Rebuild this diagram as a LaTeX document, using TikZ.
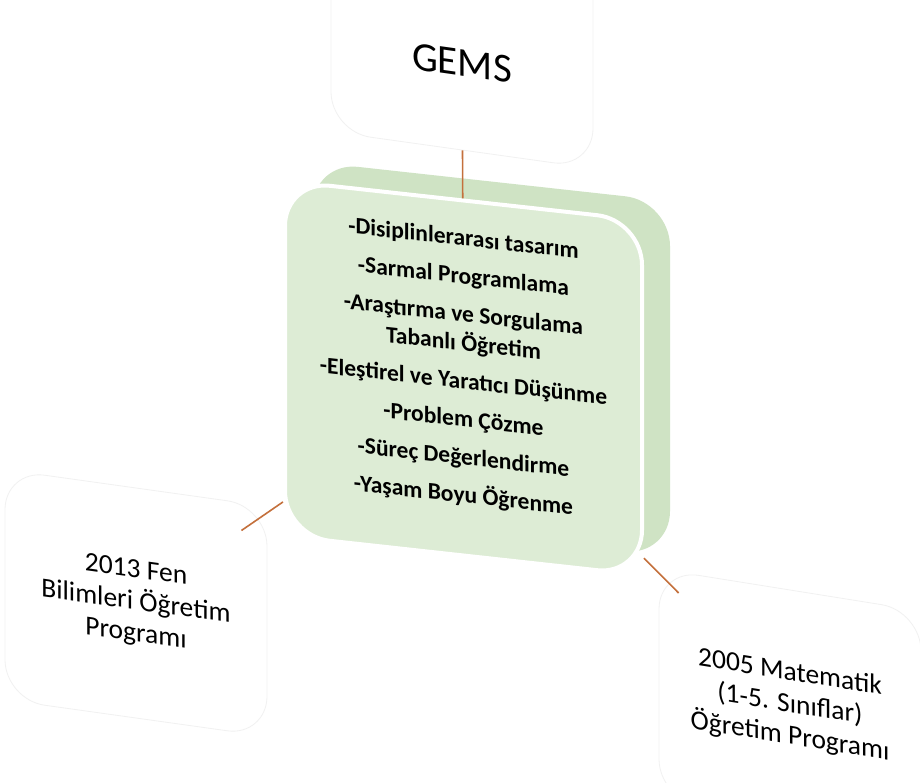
\documentclass[tikz,border=0pt]{standalone}
\usepackage{fontspec}
\setmainfont{Carlito}
\usepackage{tikz}
\usepackage{xcolor}

\definecolor{leafgreen}{RGB}{221,236,213}
\definecolor{leafshade}{RGB}{207,227,196}
\definecolor{linkbrown}{RGB}{196,112,60}
\definecolor{edgegray}{RGB}{241,241,241}

\tikzset{
  paperbox/.style={fill=white, draw=edgegray, line width=0.8pt, rounded corners=40pt,
    minimum width=262pt, minimum height=230pt, align=center,
    font=\fontsize{27.5}{32}\selectfont},
  link/.style={draw=linkbrown, line width=1.6pt},
}

\begin{document}
\begin{tikzpicture}[x=1pt, y=-1pt]
    \useasboundingbox (0,0) rectangle (920,783);
    \fill[white] (0,0) rectangle (920,783);
    \begin{scope}[shift={(462,35)}, yslant=-0.14, transform shape]
        \node[paperbox, minimum width=262pt, minimum height=230pt, text height=82pt, text depth=0pt,
            font=\fontsize{41}{45}\selectfont] (gems) at (0,0) {GEMS};
    \end{scope}
    \begin{scope}[shift={(463.5,378)}, yslant=-0.11, transform shape]
        \fill[leafshade, rounded corners=45pt] (-150.5,-199.5) rectangle ++(357,355);
        \node[fill=leafgreen, draw=white, line width=4pt, rounded corners=45pt,
            minimum width=357pt, minimum height=355pt, align=center,
            font=\bfseries\fontsize{23.5}{29}\selectfont] (mid) at (0,0)
            {-Disiplinlerarası tasarım\\[9pt]
             -Sarmal Programlama\\[9pt]
             -Araştırma ve Sorgulama\\
             Tabanlı Öğretim\\[9pt]
             -Eleştirel ve Yaratıcı Düşünme\\[9pt]
             -Problem Çözme\\[9pt]
             -Süreç Değerlendirme\\[9pt]
             -Yaşam Boyu Öğrenme\\[-5pt]\mbox{}};
    \end{scope}
    \begin{scope}[shift={(136,603)}, yslant=-0.14, transform shape]
        \node[paperbox] (fen) at (0,0) {2013 Fen\\Bilimleri Öğretim\\Programı};
    \end{scope}
    \begin{scope}[shift={(790,705)}, yslant=-0.16, transform shape]
        \node[paperbox] (mat) at (0,0) {2005 Matematik\\(1-5. Sınıflar)\\Öğretim Programı};
    \end{scope}
    \draw[link] (gems) -- (mid);
    \draw[link, shorten <=128pt] (fen.center) -- (mid);
    \draw[link, shorten >=158pt] (mid) -- (mat.center);
\end{tikzpicture}
\end{document}
